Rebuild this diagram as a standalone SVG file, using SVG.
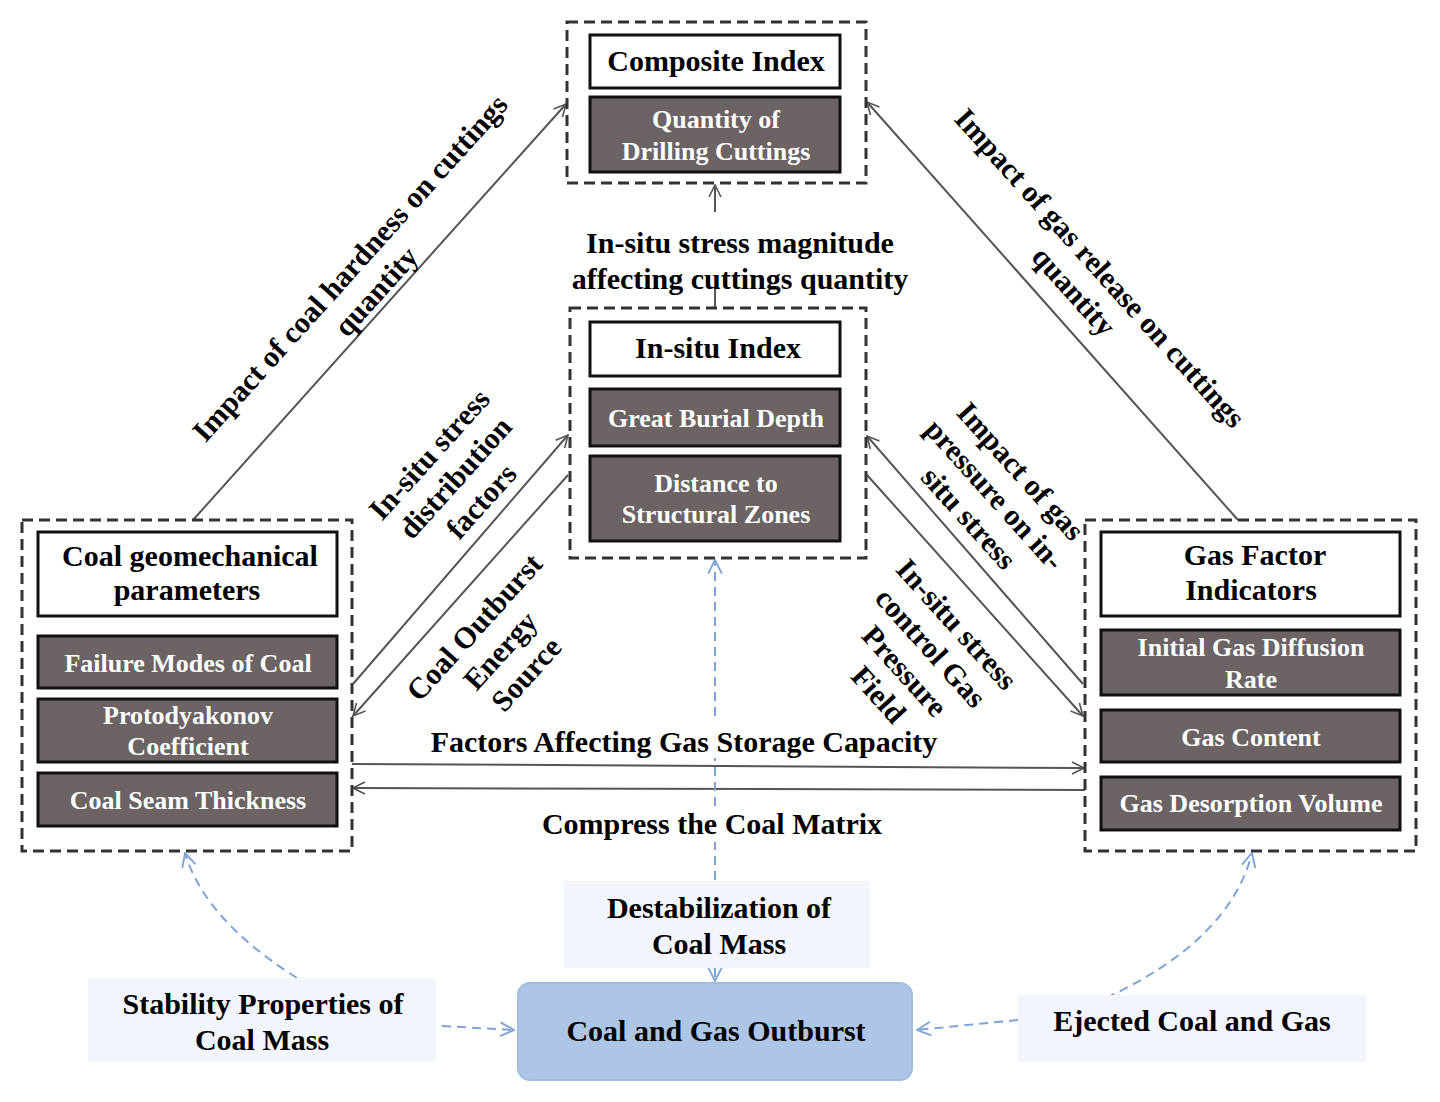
<svg xmlns="http://www.w3.org/2000/svg" width="1440" height="1102" viewBox="0 0 1440 1102">
<defs>
<style>
text{font-family:"Liberation Serif","Times New Roman",serif;font-weight:bold;text-anchor:middle}
.lbl{font-size:30px;fill:#000}
.hd{font-size:30px;fill:#000}
.gt{font-size:26px;fill:#fff}
.grp{fill:none;stroke:#333;stroke-width:3;stroke-dasharray:11 6}
.wb{fill:#fff;stroke:#111;stroke-width:3}
.gb{fill:#6b6364;stroke:#111;stroke-width:3}
.con{fill:none;stroke:#555;stroke-width:2}
.bcon{fill:none;stroke:#7ea3d7;stroke-width:2;stroke-dasharray:9 6}
.lb{fill:#f2f5fb}
</style>
<marker id="ah" viewBox="0 0 14 14" refX="13" refY="7" markerWidth="14" markerHeight="14" orient="auto" markerUnits="userSpaceOnUse"><path d="M1,1 L13,7 L1,13" fill="none" stroke="#555" stroke-width="1.6"/></marker>
<marker id="bh" viewBox="0 0 14 14" refX="13" refY="7" markerWidth="16" markerHeight="16" orient="auto" markerUnits="userSpaceOnUse"><path d="M1,1 L13,7 L1,13" fill="none" stroke="#7ea3d7" stroke-width="1.6"/></marker>
</defs>
<rect width="1440" height="1102" fill="#fff"/>

<g id="connectors">
<line class="con" x1="193" y1="520" x2="566" y2="104" marker-end="url(#ah)"/>
<line class="con" x1="1238" y1="520" x2="867" y2="102" marker-end="url(#ah)"/>
<line class="con" x1="715" y1="308" x2="715" y2="287"/>
<line class="con" x1="715" y1="212" x2="715" y2="185" marker-end="url(#ah)"/>
<line class="con" x1="353" y1="684" x2="568" y2="435" marker-end="url(#ah)"/>
<line class="con" x1="568" y1="475" x2="353" y2="716" marker-end="url(#ah)"/>
<line class="con" x1="1083" y1="684" x2="867" y2="436" marker-end="url(#ah)"/>
<line class="con" x1="867" y1="475" x2="1083" y2="716" marker-end="url(#ah)"/>
<line class="con" x1="352" y1="764" x2="1084" y2="768" marker-end="url(#ah)"/>
<line class="con" x1="1085" y1="790" x2="353" y2="788" marker-end="url(#ah)"/>
<line class="bcon" x1="715" y1="880" x2="715" y2="842"/>
<line class="bcon" x1="715" y1="806" x2="715" y2="758"/>
<line class="bcon" x1="715" y1="716" x2="715" y2="560" marker-end="url(#bh)"/>
<line class="bcon" x1="715" y1="968" x2="715" y2="981" marker-end="url(#bh)"/>
<line class="bcon" x1="442" y1="1026" x2="514" y2="1030" marker-end="url(#bh)" stroke-width="3"/>
<line class="bcon" x1="1018" y1="1020" x2="917" y2="1030" marker-end="url(#bh)" stroke-width="3"/>
<path class="bcon" d="M297,978 Q205,920 185,853" marker-end="url(#bh)"/>
<path class="bcon" d="M1106,998 Q1230,940 1252,853" marker-end="url(#bh)"/>
</g>

<g id="composite">
<rect class="grp" x="567" y="22" width="299" height="161"/>
<rect class="wb" x="590" y="35" width="250" height="53"/>
<text class="hd" x="716" y="71">Composite Index</text>
<rect class="gb" x="590" y="97" width="250" height="75"/>
<text class="gt" x="716" y="128">Quantity of</text>
<text class="gt" x="716" y="160">Drilling Cuttings</text>
</g>

<g id="insitu">
<rect class="grp" x="570" y="308" width="296" height="250"/>
<rect class="wb" x="590" y="322" width="250" height="54"/>
<text class="hd" x="718" y="358">In-situ Index</text>
<rect class="gb" x="590" y="389" width="250" height="57"/>
<text class="gt" x="716" y="427">Great Burial Depth</text>
<rect class="gb" x="590" y="456" width="250" height="85"/>
<text class="gt" x="716" y="492">Distance to</text>
<text class="gt" x="716" y="523">Structural Zones</text>
</g>

<g id="coalgeo">
<rect class="grp" x="22" y="520" width="330" height="331"/>
<rect class="wb" x="38" y="532" width="299" height="84"/>
<text class="hd" x="190" y="566">Coal geomechanical</text>
<text class="hd" x="187" y="600">parameters</text>
<rect class="gb" x="38" y="636" width="299" height="52"/>
<text class="gt" x="188" y="672">Failure Modes of Coal</text>
<rect class="gb" x="38" y="699" width="299" height="63"/>
<text class="gt" x="188" y="724">Protodyakonov</text>
<text class="gt" x="188" y="755">Coefficient</text>
<rect class="gb" x="38" y="773" width="299" height="53"/>
<text class="gt" x="188" y="809">Coal Seam Thickness</text>
</g>

<g id="gasfactor">
<rect class="grp" x="1085" y="520" width="331" height="331"/>
<rect class="wb" x="1101" y="532" width="299" height="84"/>
<text class="hd" x="1255" y="565">Gas Factor</text>
<text class="hd" x="1251" y="600">Indicators</text>
<rect class="gb" x="1101" y="630" width="299" height="65"/>
<text class="gt" x="1251" y="656">Initial Gas Diffusion</text>
<text class="gt" x="1251" y="688">Rate</text>
<rect class="gb" x="1101" y="710" width="299" height="52"/>
<text class="gt" x="1251" y="746">Gas Content</text>
<rect class="gb" x="1101" y="777" width="299" height="53"/>
<text class="gt" x="1251" y="812">Gas Desorption Volume</text>
</g>

<g id="labels">
<text class="lbl" x="740" y="253">In-situ stress magnitude</text>
<text class="lbl" x="740" y="289">affecting cuttings quantity</text>
<text class="lbl" x="684" y="752">Factors Affecting Gas Storage Capacity</text>
<text class="lbl" x="712" y="834">Compress the Coal Matrix</text>
<g transform="translate(350,268) rotate(-48)">
<text class="lbl" x="0" y="10">Impact of coal hardness on cuttings</text>
<text class="lbl" x="0" y="45">quantity</text>
</g>
<g transform="translate(1100,268) rotate(48)">
<text class="lbl" x="0" y="10">Impact of gas release on cuttings</text>
<text class="lbl" x="0" y="45">quantity</text>
</g>
<g transform="translate(430,455) rotate(-48)">
<text class="lbl" x="0" y="9">In-situ stress</text>
<text class="lbl" x="0" y="44">distribution</text>
<text class="lbl" x="0" y="79">factors</text>
</g>
<g transform="translate(475,628) rotate(-48)">
<text class="lbl" x="0" y="9">Coal Outburst</text>
<text class="lbl" x="0" y="44">Energy</text>
<text class="lbl" x="0" y="79">Source</text>
</g>
<g transform="translate(1020,472) rotate(48)">
<text class="lbl" x="0" y="9">Impact of gas</text>
<text class="lbl" x="0" y="44">pressure on in-</text>
<text class="lbl" x="0" y="79">situ stress</text>
</g>
<g transform="translate(956,625) rotate(48)">
<text class="lbl" x="0" y="9">In-situ stress</text>
<text class="lbl" x="0" y="44">control Gas</text>
<text class="lbl" x="0" y="79">Pressure</text>
<text class="lbl" x="0" y="114">Field</text>
</g>
</g>

<g id="destab">
<rect class="lb" x="564" y="881" width="306" height="87"/>
<text class="lbl" x="719" y="918">Destabilization of</text>
<text class="lbl" x="719" y="954">Coal Mass</text>
</g>
<g id="outburst">
<rect x="518" y="983" width="394" height="97" rx="12" fill="#adc6e8" stroke="#a2bce2" stroke-width="2"/>
<text class="lbl" x="716" y="1041">Coal and Gas Outburst</text>
</g>
<g id="stability">
<rect class="lb" x="88" y="978" width="348" height="84"/>
<text class="lbl" x="263" y="1014">Stability Properties of</text>
<text class="lbl" x="262" y="1050">Coal Mass</text>
</g>
<g id="ejected">
<rect class="lb" x="1018" y="995" width="348" height="67"/>
<text class="lbl" x="1192" y="1031">Ejected Coal and Gas</text>
</g>
</svg>
